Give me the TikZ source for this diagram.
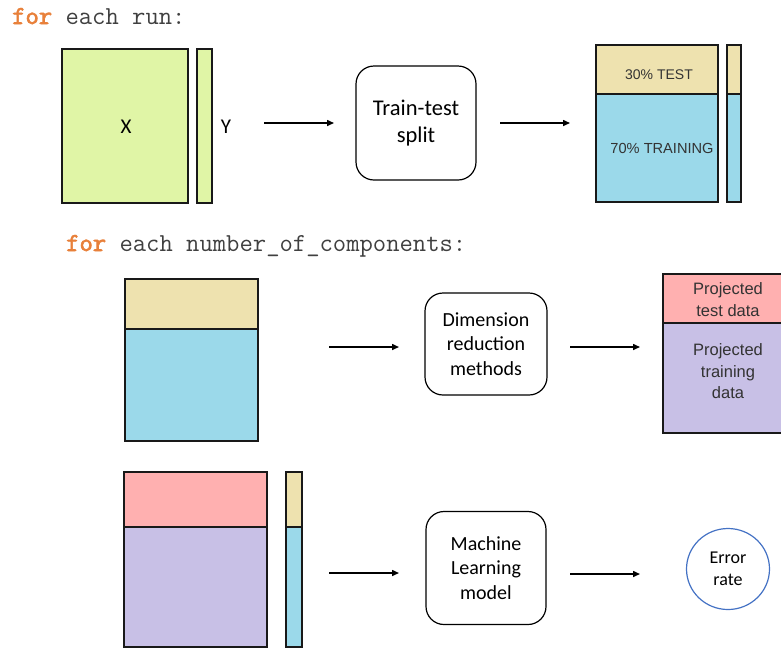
\documentclass[tikz,border=0pt]{standalone}
\usepackage{fontspec}
\setmainfont{Carlito}
\newfontfamily\arialfam{Liberation Sans}
\newfontfamily\ttboldfam{Latin Modern Mono}[FakeBold=2.5]
\usetikzlibrary{arrows.meta,shapes.geometric}
\definecolor{greenX}{HTML}{E0F5A6}
\definecolor{wheatc}{HTML}{EEE2AF}
\definecolor{bluec}{HTML}{9BD9EA}
\definecolor{pinkc}{HTML}{FFB0B0}
\definecolor{lavc}{HTML}{C8C0E6}
\definecolor{circblue}{HTML}{4472C4}
\definecolor{forange}{HTML}{E8803A}
\definecolor{monogray}{HTML}{404040}
\definecolor{txtgray}{HTML}{333333}
\newcommand{\kwfor}{\textcolor{forange}{\ttboldfam for}}
\tikzset{
  blockrect/.style={draw=black!90, line width=1.8pt, inner sep=0pt, outer sep=0pt, anchor=north west},
  procbox/.style={draw=black, line width=1.2pt, rounded corners=18pt, align=center, inner sep=0pt,
    font=\fontsize{20}{24.5}\selectfont},
  conn/.style={line width=1.5pt, -{Triangle[length=7pt,width=6pt]}},
  codeline/.style={anchor=base west, inner sep=0pt, text=monogray, font=\ttfamily\fontsize{25.9}{28}\selectfont},
  celltext/.style={inner sep=0pt, align=center, text=txtgray, font=\arialfam\fontsize{14}{17}\selectfont},
  projtext/.style={inner sep=0pt, align=center, text=txtgray, font=\arialfam\fontsize{16.5}{21.5}\selectfont},
}
\begin{document}
\begin{tikzpicture}[x=1pt,y=-1pt]
\useasboundingbox (0,0) rectangle (781,649);
\clip (0,0) rectangle (781,649);

% ---------- row 1 ----------
\node[codeline] (h1) at (12,24) {\kwfor{} each run:};

\node[blockrect, fill=greenX, minimum width=126pt, minimum height=154pt] (X) at (62,49) {};
\node[blockrect, fill=greenX, minimum width=15pt, minimum height=154pt] (Ycol) at (197,49) {};
\node[inner sep=0pt, font=\fontsize{21}{24}\selectfont] (Xl) at (126,127) {X};
\node[inner sep=0pt, font=\fontsize{21}{24}\selectfont] (Yl) at (226,127) {Y};

\coordinate (a1s) at (264,123);
\coordinate (a1e) at (334,123);
\draw[conn] (a1s) -- (a1e);

\node[procbox, minimum width=120pt, minimum height=114pt, font=\fontsize{22.5}{27}\selectfont] (tts) at (416,123) {Train-test\\split};

\coordinate (a2s) at (500,123);
\coordinate (a2e) at (570,123);
\draw[conn] (a2s) -- (a2e);

\node[blockrect, fill=wheatc, minimum width=122pt, minimum height=49pt] (test1) at (596,45) {};
\node[blockrect, fill=bluec, minimum width=122pt, minimum height=108pt] (train1) at (596,94) {};
\node[blockrect, fill=wheatc, minimum width=14pt, minimum height=49pt] (ytest1) at (727,45) {};
\node[blockrect, fill=bluec, minimum width=14pt, minimum height=108pt] (ytrain1) at (727,94) {};
\node[celltext] (t30) at (659,75) {30\% TEST};
\node[celltext, font=\arialfam\fontsize{14.6}{17}\selectfont] (t70) at (662,148) {70\% TRAINING};

% ---------- row 2 ----------
\node[codeline] (h2) at (66,251) {\kwfor{} each number\_of\_components:};

\node[blockrect, fill=wheatc, minimum width=133pt, minimum height=50pt] (test2) at (125,279) {};
\node[blockrect, fill=bluec, minimum width=133pt, minimum height=112pt] (train2) at (125,329) {};

\coordinate (a3s) at (329,347);
\coordinate (a3e) at (399,347);
\draw[conn] (a3s) -- (a3e);

\node[procbox, minimum width=122pt, minimum height=102pt] (drm) at (486,344) {Dimension\\reduction\\methods};

\coordinate (a4s) at (570,347);
\coordinate (a4e) at (640,347);
\draw[conn] (a4s) -- (a4e);

\node[blockrect, fill=pinkc, minimum width=130pt, minimum height=49pt] (ptest) at (663,274) {};
\node[blockrect, fill=lavc, minimum width=130pt, minimum height=110pt] (ptrain) at (663,323) {};
\node[projtext] (ptestl) at (728,299.5) {Projected\\test data};
\node[projtext] (ptrainl) at (728,371.5) {Projected\\training\\data};

% ---------- row 3 ----------
\node[blockrect, fill=pinkc, minimum width=143pt, minimum height=55pt] (ptest3) at (124,472) {};
\node[blockrect, fill=lavc, minimum width=143pt, minimum height=120pt] (ptrain3) at (124,527) {};
\node[blockrect, fill=wheatc, minimum width=16pt, minimum height=55pt] (ytest3) at (286,472) {};
\node[blockrect, fill=bluec, minimum width=16pt, minimum height=120pt] (ytrain3) at (286,527) {};

\coordinate (a5s) at (329,573);
\coordinate (a5e) at (399,573);
\draw[conn] (a5s) -- (a5e);

\node[procbox, minimum width=120pt, minimum height=113pt] (mlm) at (486,568) {Machine\\Learning\\model};

\coordinate (a6s) at (570,574);
\coordinate (a6e) at (640,574);
\draw[conn] (a6s) -- (a6e);

\node[draw=circblue, line width=1.2pt, ellipse, minimum width=83pt, minimum height=81pt, inner sep=0pt,
  align=center, font=\fontsize{18}{22}\selectfont] (err) at (728,569) {Error\\rate};
\end{tikzpicture}
\end{document}
